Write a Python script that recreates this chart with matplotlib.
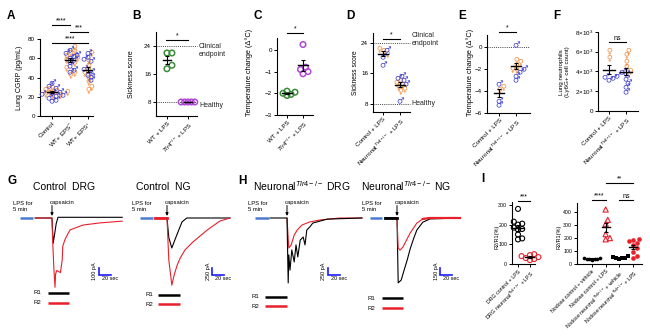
import numpy as np
import matplotlib
matplotlib.use("Agg")
import matplotlib.pyplot as plt
from matplotlib.textpath import TextPath
from matplotlib.font_manager import FontProperties
from matplotlib.path import Path
from matplotlib.transforms import blended_transform_factory

plt.rcParams['font.family'] = ['Liberation Sans', 'DejaVu Sans']
plt.rcParams['mathtext.fontset'] = 'custom'
plt.rcParams['mathtext.rm'] = 'Liberation Sans'
plt.rcParams['mathtext.it'] = 'Liberation Sans:italic'

ORANGE = '#f08c3c'
BLUE = '#3c3cd2'
GREEN = '#3a8c3a'
PURPLE = '#b048d8'
RED = '#e8202a'
LPSBLUE = '#4a7bd0'
SCALEBLUE = '#1a1aff'

# ---------------- data ----------------
# A: lung CGRP (pg/mL), female / male
A_labels = ['Control', 'WT+ EPS$^{-}$', 'WT+ EPS$^{+}$']
A_female = [[28, 26, 25, 24, 22, 21, 27, 23, 29],
            [72, 68, 65, 62, 60, 58, 55, 50, 45, 43],
            [65, 57, 52, 45, 40, 35, 30, 27, 48]]
A_male = [[35, 32, 30, 26, 24, 22, 20, 18, 17, 25, 23],
          [70, 66, 63, 61, 57, 53, 49, 47, 59, 64],
          [66, 62, 58, 50, 47, 44, 42, 38, 60]]

# B: sickness score
B_labels = ['WT + LPS', r'$\mathit{Tlr4}^{-/-}$ + LPS']
B_wt = [22, 22, 17.5, 18.5]
B_ko = [8, 8, 8, 8, 8]

# C: temperature change
C_labels = ['WT + LPS', r'$\mathit{Tlr4}^{-/-}$ + LPS']
C_wt = [-2.0, -2.1, -2.05, -1.95, -1.9]
C_ko = [0.25, -0.8, -0.9, -1.1, -1.0]

NEUR_labels = ['Control + LPS', r'Neuronal$^{\mathit{Tlr4}-/-}$ + LPS']
# D: sickness score
D_female = [[22.5, 22, 21], [14, 13, 12.5, 12, 11.5, 13.5]]
D_male = [[22.5, 20.5, 18.5], [15.5, 15, 14.5, 13.5, 9]]
# E: temperature change
E_female = [[-3.6, -3.9], [-1.2, -1.4, -1.7, -2.0, -2.1]]
E_male = [[-3.3, -4.8, -5.2], [0.3, -1.9, -2.2, -2.5, -2.9]]
# F: lung neutrophils
F_female = [[6100, 5400], [6100, 5700, 5000, 4500, 4000]]
F_male = [[3600, 3500, 3400, 3200], [4100, 3800, 3300, 2900, 2500, 2000]]

# I: R2/R1 (%)
I_left_labels = ['DRG control + LPS', r'DRG neuronal$^{\mathit{Tlr4}-/-}$ + LPS']
I_drg_ctrl = [280, 215, 205, 200, 185, 178, 175, 150, 130, 125]
I_drg_ko = [50, 45, 40, 35, 30, 25, 20]
I_right_labels = ['Nodose control + vehicle', 'Nodose control + LPS',
                  r'Nodose neuronal$^{\mathit{Tlr4}-/-}$ + vehicle',
                  r'Nodose neuronal$^{\mathit{Tlr4}-/-}$ + LPS']
I_ng_ctrl_veh = [50, 45, 42, 40, 38, 35, 32]
I_ng_ctrl_lps = [420, 340, 310, 230, 200, 190]
I_ng_ko_veh = [60, 55, 50, 48, 45, 40]
I_ng_ko_lps = [190, 185, 175, 160, 150, 120, 95, 60, 50]

# G/H: whole-cell currents, time (s) from capsaicin, current (pA)
GD_lps = [-53, -32]
GD_r1_t = [-28, 0, 1, 2, 4, 7, 10, 117]
GD_r1_pA = [0, 0, -200, -360, -250, -80, 10, 10]
GD_r2_t = [-28, 0, 1, 3, 5, 6, 8, 14, 17, 18, 22, 30, 52, 80, 117]
GD_r2_pA = [0, 0, -300, -700, -990, -800, -750, -780, -600, -400, -300, -170, -100, -70, -45]

GN_lps = [-45, -23]
GN_r1_t = [0, 3, 8, 15, 25, 33, 105]
GN_r1_pA = [0, -700, -1070, -680, -140, 0, 0]
GN_r2_t = [-20, 0, 3, 7, 8, 12, 17, 22, 30, 43, 67, 88, 105]
GN_r2_pA = [0, 0, -1500, -2200, -2400, -2030, -1680, -1430, -1140, -860, -430, -110, 0]

HD_lps = [-53, -30]
HD_r1_t = [-28, 0, 2, 3, 5, 8, 12, 15, 18, 22, 27, 30, 33, 38, 43, 50, 67, 125]
HD_r1_pA = [0, 0, -2320, -1320, -1860, -1140, -1570, -960, -1390, -790, -680, -960,
            -430, -320, -180, -140, -40, 0]
HD_r2_t = [0, 3, 7, 12, 17, 25, 38, 55, 88, 125]
HD_r2_pA = [0, -1070, -960, -610, -430, -250, -140, -70, 0, 0]

HN_lps = [-45, -25]
HN_r1_t = [-20, 0, 2, 7, 12, 17, 22, 28, 33, 43, 55, 105]
HN_r1_pA = [0, 0, -1390, -1330, -1110, -900, -660, -430, -260, -90, -20, 0]
HN_r2_t = [0, 2, 5, 10, 22, 33, 43, 55, 105]
HN_r2_pA = [0, -640, -690, -620, -320, -110, -20, 0, 0]

# ---------------- figure ----------------
W, H = 650, 336
fig = plt.figure(figsize=(W / 100, H / 100), dpi=100)

# overlay in figure pixels (origin top-left) for labels and keys
ov = fig.add_axes([0, 0, 1, 1])
ov.set_xlim(0, W)
ov.set_ylim(H, 0)
ov.axis('off')


def glyph(ch):
    tp = TextPath((0, 0), ch, size=1, prop=FontProperties(family='DejaVu Sans'))
    v = tp.vertices.copy()
    c = (v.min(0) + v.max(0)) / 2
    return Path(v - c, tp.codes)


FEMALE = glyph('\u2640')
MALE = glyph('\u2642')


def dot_axes(x0, y0, x1, y1, xlim, ylim, yticks, labels, lsize=4.5):
    ax = fig.add_axes([x0 / W, 1 - y1 / H, (x1 - x0) / W, (y1 - y0) / H])
    ax.set_xlim(xlim)
    ax.set_ylim(ylim)
    ax.patch.set_alpha(0)
    for s in ('top', 'right'):
        ax.spines[s].set_visible(False)
    for s in ('left', 'bottom'):
        ax.spines[s].set_linewidth(0.8)
    ax.tick_params(length=2.5, width=0.7, labelsize=lsize, pad=1)
    ax.set_yticks(yticks)
    ax.set_xticks(range(len(labels)))
    ax.set_xticklabels(labels, rotation=45, ha='right', rotation_mode='anchor')
    return ax


def swarm_x(ax, xc, vals, d):
    vals = np.asarray(vals, float)
    pts = ax.transData.transform(np.column_stack([np.full(vals.size, xc), vals]))
    cx = pts[0, 0]
    placed = []
    xs = np.zeros(vals.size)
    inv = ax.transData.inverted()
    for i in np.argsort(pts[:, 1]):
        y = pts[i, 1]
        k = 0
        while True:
            off = ((k + 1) // 2) * 0.5 * d * (1 if k % 2 else -1)
            if all((cx + off - px) ** 2 + (y - py) ** 2 >= d * d for px, py in placed):
                break
            k += 1
        placed.append((cx + off, y))
        xs[i] = inv.transform((cx + off, y))[0]
    return xs


def group(ax, xc, parts, d, hw):
    """parts: list of (values, style dict)"""
    allv = np.concatenate([np.asarray(p[0], float) for p in parts])
    xs = swarm_x(ax, xc, allv, d)
    i = 0
    for vals, style in parts:
        n = len(vals)
        ax.scatter(xs[i:i + n], vals, zorder=3, clip_on=False, **style)
        i += n
    m = allv.mean()
    sem = allv.std(ddof=1) / np.sqrt(allv.size)
    ax.plot([xc - hw, xc + hw], [m, m], color='k', lw=1.0, zorder=4)
    ax.errorbar(xc, m, yerr=sem, color='k', lw=0.8, capsize=1.5, capthick=0.8, zorder=4)


def sig(ax, xa, xb, y, label, fs=5, gap=0.5):
    tr = blended_transform_factory(ax.transData, ov.transData)
    ax.plot([xa, xb], [y, y], transform=tr, color='k', lw=0.8, clip_on=False)
    ax.text((xa + xb) / 2, y - gap, label, transform=tr, ha='center', va='bottom',
            fontsize=fs, clip_on=False)


def ylab(ax, text, x, y, fs=5):
    ax.set_ylabel(text, fontsize=fs)
    ax.yaxis.set_label_coords(x, y, transform=ov.transData)


def refline(ax, y, x_end, text, fs=5, dy=0):
    ax.plot([ax.get_xlim()[0], x_end], [y, y], ls=(0, (1, 1.2)), color='#444444',
            lw=0.7, clip_on=False)
    ax.text(x_end + 0.08, y + dy, text, fontsize=fs, ha='left', va='center', clip_on=False,
            color='#222222')


fem = lambda c: dict(marker=FEMALE, s=26, c=c, linewidths=0)
mal = lambda c: dict(marker=MALE, s=26, c=c, linewidths=0)
ring = lambda c, s=13, lw=0.9: dict(marker='o', s=s, facecolors='none', edgecolors=c, linewidths=lw)

# ---- A ----
axA = dot_axes(40, 39, 93, 116, (-0.7, 2.3), (0, 80), [0, 20, 40, 60, 80], A_labels)
for k in range(3):
    group(axA, k, [(A_female[k], fem(ORANGE)), (A_male[k], mal(BLUE))], 3.6, 0.28)
ylab(axA, 'Lung CGRP (pg/mL)', 23, 78)
sig(axA, 0, 1, 25, '****')
sig(axA, 1, 2, 32, '***')
sig(axA, 0, 2, 43, '****')

# ---- B ----
axB = dot_axes(156, 32, 197, 116, (-0.52, 1.43), (4, 28), [8, 16, 24], B_labels)
group(axB, 0, [(B_wt, ring(GREEN, 16, 1.1))], 5, 0.2)
group(axB, 1, [(B_ko, ring(PURPLE, 16, 1.1))], 3.4, 0.2)
refline(axB, 24, 1.45, 'Clinical\nendpoint', dy=-1.3)
refline(axB, 8, 1.45, 'Healthy', dy=-0.9)
ylab(axB, 'Sickness score', 135, 74)
sig(axB, -0.05, 1.0, 40, '*')

# ---- C ----
axC = dot_axes(277, 38, 313, 115, (-0.625, 1.625), (-3, 0.55), [-3, -2, -1, 0], C_labels)
group(axC, 0, [(C_wt, ring(GREEN, 16, 1.1))], 4, 0.3)
group(axC, 1, [(C_ko, ring(PURPLE, 16, 1.1))], 5, 0.31)
ylab(axC, 'Temperature change (\u0394\u00b0C)', 253, 72, fs=5.3)
sig(axC, 0, 1, 33, '*')

# ---- D ----
axD = dot_axes(373, 33, 410, 112, (-0.59, 1.59), (5.9, 26.6), [8, 16, 24], NEUR_labels)
for k in range(2):
    group(axD, k, [(D_female[k], fem(ORANGE)), (D_male[k], mal(BLUE))], 4, 0.3)
refline(axD, 24, 1.6, 'Clinical\nendpoint', dy=0.8)
refline(axD, 8, 1.6, 'Healthy', dy=0)
ylab(axD, 'Sickness score', 359, 73, fs=4.8)
sig(axD, 0, 1, 39, '*')

# ---- E ----
axE = dot_axes(487, 35, 530, 113, (-0.75, 1.875), (-6, 1.1), [-6, -4, -2, 0], NEUR_labels)
axE.plot([-0.75, 1.8], [0, 0], ls=(0, (1, 1.2)), color='#444444', lw=0.7)
for k in range(2):
    group(axE, k, [(E_female[k], fem(ORANGE)), (E_male[k], mal(BLUE))], 4, 0.3)
ylab(axE, 'Temperature change (\u0394\u00b0C)', 474, 72, fs=5.3)
sig(axE, 0, 1, 32, '*')

# ---- F ----
axF = dot_axes(598, 32, 638, 111, (-0.65, 1.7), (0, 8000), [0, 2000, 4000, 6000, 8000],
               NEUR_labels)
axF.set_yticklabels(['0', '2\u00d710$^3$', '4\u00d710$^3$', '6\u00d710$^3$', '8\u00d710$^3$'])
for k in range(2):
    group(axF, k, [(F_female[k], fem(ORANGE)), (F_male[k], mal(BLUE))], 4, 0.35)
ylab(axF, 'Lung neutrophils\n(Ly6G+ cell count)', 570, 72, fs=4.5)
sig(axF, 0, 1, 42, 'ns', gap=0.2)

# ---- I ----
axI1 = dot_axes(512, 202, 535, 264, (-0.5, 1.42), (0, 315), [0, 100, 200, 300],
                I_left_labels, lsize=3.8)
group(axI1, 0, [(I_drg_ctrl, ring('k', 13, 0.8))], 4.2, 0.4)
group(axI1, 1, [(I_drg_ko, ring(RED, 13, 0.8))], 4.2, 0.4)
ylab(axI1, 'R2/R1(%)', 499, 237, fs=4)
sig(axI1, 0, 1, 201, '***')

axI2 = dot_axes(577, 203, 642, 264, (-1.1, 3.66), (0, 470), [0, 100, 200, 300, 400],
                I_right_labels, lsize=3.8)
group(axI2, 0, [(I_ng_ctrl_veh, dict(marker='o', s=7, c='k', linewidths=0))], 2.6, 0.3)
group(axI2, 1, [(I_ng_ctrl_lps, dict(marker='^', s=14, facecolors='none', edgecolors=RED,
                                     linewidths=0.8))], 4.2, 0.3)
group(axI2, 2, [(I_ng_ko_veh, dict(marker='s', s=9, c='k', linewidths=0))], 3.0, 0.3)
group(axI2, 3, [(I_ng_ko_lps, dict(marker='o', s=11, c=RED, linewidths=0))], 4.0, 0.3)
ylab(axI2, 'R2/R1(%)', 561, 237, fs=4)
sig(axI2, 0, 1, 200, '****')
sig(axI2, 2, 3, 200, 'ns', gap=0.2)
sig(axI2, 1, 3, 183, '**')


# ---- traces ----
def trace_axes(x0, y0, x1, y1, t0, base, px_s, pa_px):
    ax = fig.add_axes([x0 / W, 1 - y1 / H, (x1 - x0) / W, (y1 - y0) / H])
    ax.set_xlim((x0 - t0) / px_s, (x1 - t0) / px_s)
    ax.set_ylim(-(y1 - base) * pa_px, -(y0 - base) * pa_px)
    ax.axis('off')
    return ax


def trace_panel(ax, lps, r1, r2, order, scale_at, amp, thick=()):
    ax.plot(lps, [0, 0], color=LPSBLUE, lw=1.8, solid_capstyle='butt')
    lines = {'r1': (r1, 'k'), 'r2': (r2, RED)}
    for key in order:
        (t, v), c = lines[key]
        ax.plot(t, v, color=c, lw=1.6 if key in thick else 0.8)
    ax.annotate('', xy=(0, 0), xytext=(0, 9), textcoords='offset points',
                arrowprops=dict(arrowstyle='-|>', lw=0.7, color='k', mutation_scale=4,
                                shrinkA=0, shrinkB=1.5))
    ax.annotate('capsaicin', xy=(0, 0), xytext=(-1.5, 9.5), textcoords='offset points',
                fontsize=4.2, ha='left', va='bottom')
    ax.annotate('LPS for\n5 min', xy=(lps[0], 0), xytext=(-5.5, 4), textcoords='offset points',
                fontsize=4.2, ha='left', va='bottom', linespacing=1.3)
    sx, sy = scale_at
    ax.plot([sx, sx, sx + 20], [sy + amp, sy, sy], color=SCALEBLUE, lw=1.2,
            solid_joinstyle='miter')
    ax.annotate(f'{amp} pA', xy=(sx, sy + amp / 2), xytext=(-1, 0), textcoords='offset points',
                fontsize=4, rotation=90, ha='right', va='center')
    ax.annotate('20 sec', xy=(sx, sy), xytext=(2, -1), textcoords='offset points',
                fontsize=4, ha='left', va='top')


axGD = trace_axes(5, 190, 130, 292, 52, 218, 0.6, 100 / 7)
trace_panel(axGD, GD_lps, (GD_r1_t, GD_r1_pA), (GD_r2_t, GD_r2_pA), ['r1', 'r2'],
            (78, -815), 100)
axGN = trace_axes(130, 190, 236, 292, 167, 218, 0.6, 250 / 7)
trace_panel(axGN, GN_lps, (GN_r1_t, GN_r1_pA), (GN_r2_t, GN_r2_pA), ['r1', 'r2'],
            (75, -2035), 250)
axGN.plot(GN_r2_t[:2], GN_r2_pA[:2], color=RED, lw=2.0)
axHD = trace_axes(240, 190, 365, 292, 287, 218, 0.6, 250 / 7)
trace_panel(axHD, HD_lps, (HD_r1_t, HD_r1_pA), (HD_r2_t, HD_r2_pA), ['r2', 'r1'],
            (68, -2035), 250)
axHN = trace_axes(355, 190, 462, 292, 397, 218, 0.6, 150 / 7)
trace_panel(axHN, HN_lps, (HN_r1_t, HN_r1_pA), (HN_r2_t, HN_r2_pA), ['r1', 'r2'],
            (72, -1220), 150)
axHN.plot(HN_r1_t[:2], HN_r1_pA[:2], color='k', lw=2.0)
axHN.plot(HN_r2_t[-3:], HN_r2_pA[-3:], color=RED, lw=1.6)

# R1 / R2 keys
for tx, la, lb, ya, yb in [(34, 48, 69, 293, 303), (145, 158, 180, 295, 304),
                           (252, 265, 287, 297, 306), (368, 382, 403, 298, 308)]:
    ov.text(tx, ya, 'R1', fontsize=4.3, va='center', ha='left')
    ov.text(tx, yb, 'R2', fontsize=4.3, va='center', ha='left')
    ov.plot([la, lb], [ya, ya], color='k', lw=1.8, solid_capstyle='butt')
    ov.plot([la, lb], [yb, yb], color=RED, lw=1.8, solid_capstyle='butt')

# titles
ov.text(64, 187, 'Control  DRG', fontsize=7.5, ha='center', va='center')
ov.text(163, 187, 'Control  NG', fontsize=7.5, ha='center', va='center')
ov.text(302, 186, r'Neuronal$^{\mathit{Tlr4-/-}}$ DRG', fontsize=7.5, ha='center', va='center')
ov.text(406, 186, r'Neuronal$^{\mathit{Tlr4-/-}}$ NG', fontsize=7.5, ha='center', va='center')

# panel letters
for letter, x, y in [('A', 7, 16), ('B', 132, 16), ('C', 253, 16), ('D', 346, 16),
                     ('E', 458, 16), ('F', 553, 16), ('G', 8, 181), ('H', 238, 181),
                     ('I', 481, 179)]:
    ov.text(x, y, letter, fontsize=8.5, fontweight='bold', ha='left', va='center')

fig.savefig('out.png', dpi=100)
